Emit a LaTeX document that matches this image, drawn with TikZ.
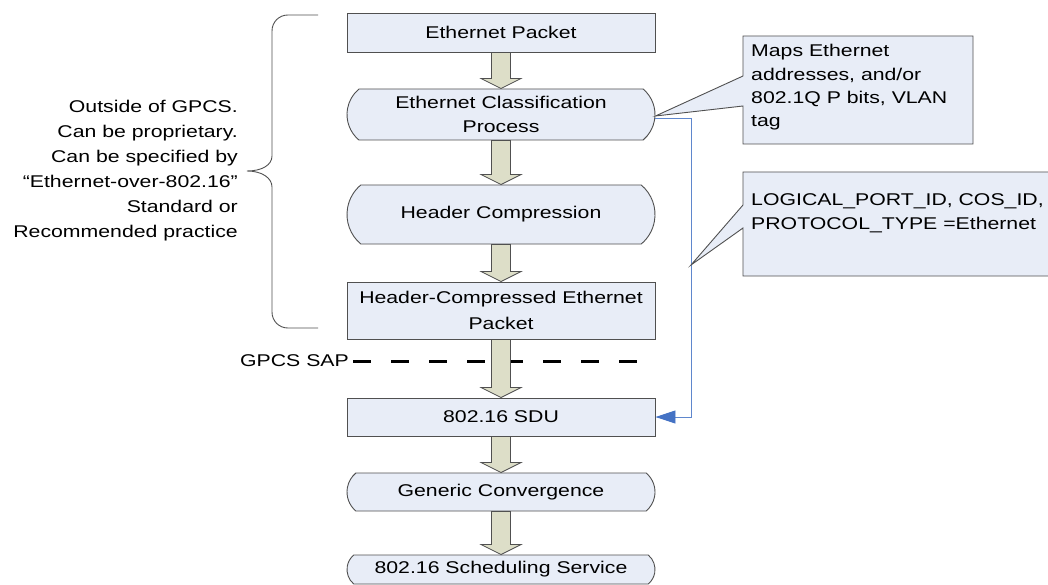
\documentclass[tikz,border=0pt]{standalone}
\usepackage{fontspec}
\setmainfont{Liberation Sans}[FakeStretch=1.25]
\usetikzlibrary{shapes.misc,arrows.meta,calc}
\definecolor{boxfill}{RGB}{232,237,247}
\definecolor{arrfill}{RGB}{221,222,200}
\definecolor{edge}{RGB}{80,80,80}
\definecolor{bline}{RGB}{95,135,205}
\definecolor{bhead}{RGB}{68,114,196}
\tikzset{
  procbox/.style={draw=edge, fill=boxfill, line width=0.9pt, minimum width=308pt, inner sep=0pt, align=center, font=\fontsize{17}{24}\selectfont},
  procround/.style={procbox, rounded rectangle, rounded rectangle arc length=100},
  barrow/.style={draw=edge, fill=arrfill, line width=0.8pt},
  callout/.style={draw=edge, fill=boxfill, line width=0.9pt},
  ctext/.style={inner sep=0pt, align=left, anchor=west},
  sapline/.style={line width=3pt, dash pattern=on 18pt off 20pt},
  blueline/.style={draw=bline, line width=0.8pt, -{Triangle[length=20pt,width=13pt,fill=bhead,color=bhead]}},
  bracestyle/.style={draw=edge, line width=0.9pt}
}
\newcommand\blockarrow[2]{%
  \draw[barrow] ([xshift=-9.5pt]#1.south) -- ([xshift=-9.5pt,yshift=10pt]#2.north) -- ([xshift=-20pt,yshift=10pt]#2.north) -- (#2.north) -- ([xshift=20pt,yshift=10pt]#2.north) -- ([xshift=9.5pt,yshift=10pt]#2.north) -- ([xshift=9.5pt]#1.south) -- cycle;}
\begin{document}
\begin{tikzpicture}[x=1pt,y=-1pt]
\useasboundingbox (0,0) rectangle (1048,585);
% main chain
\node[procbox, minimum height=39pt] (ep) at (501,32.5) {Ethernet Packet};
\node[procround, minimum height=51pt] (cls) at (501,114.5) {Ethernet Classification\\Process};
\node[procround, minimum height=59pt] (hc) at (501,214.5) {Header Compression};
\node[procbox, minimum height=57pt, font=\fontsize{17}{26.5}\selectfont] (hcep) at (501,310.5) {Header-Compressed Ethernet\\Packet};
\node[procbox, minimum height=38pt] (sdu) at (501,417) {802.16 SDU};
\node[procround, minimum height=38pt] (gc) at (501,492) {Generic Convergence};
\node[procround, minimum height=29pt] (sch) at (501,569.5) {802.16 Scheduling Service};
% GPCS SAP
\node[inner sep=0pt, anchor=east, font=\fontsize{17}{20}\selectfont] (sap) at (349,361) {GPCS SAP};
\coordinate (sapend) at (647,361);
\draw[sapline] ([xshift=4pt]sap.east) -- (sapend);
% block arrows
\blockarrow{ep}{cls}
\blockarrow{cls}{hc}
\blockarrow{hc}{hcep}
\blockarrow{hcep}{sdu}
\blockarrow{sdu}{gc}
\blockarrow{gc}{sch}
% blue connector
\draw[blueline] ([yshift=-3.5pt]cls.east) -- ++(36,0) |- (sdu.east);
% callout 1
\coordinate (c1tip) at ([yshift=-1.5pt]cls.east);
\filldraw[callout] (743,36) -- (973,36) -- (973,144) -- (743,144) -- (743,106) -- (c1tip) -- (743,76) -- cycle;
\node[ctext, font=\fontsize{17}{23.3}\selectfont] (t1) at (751,87.5) {Maps Ethernet\\addresses, and/or\\802.1Q P bits, VLAN\\tag};
% callout 2
\coordinate (c2tip) at (691,265);
\filldraw[callout] (743,172) -- (1056,172) -- (1056,276) -- (743,276) -- (743,228) -- (c2tip) -- (743,205) -- cycle;
\node[ctext, font=\fontsize{17}{23.5}\selectfont] (t2) at (751,213.5) {LOGICAL\_PORT\_ID, COS\_ID,\\PROTOCOL\_TYPE =Ethernet};
% brace
\draw[bracestyle] (318,15) -- (288,15) .. controls (279,15) and (272,22) .. (272,31) -- (272,156) .. controls (272,165) and (262,171) .. (247,171) .. controls (262,171) and (272,178) .. (272,187) -- (272,312) .. controls (272,321) and (279,328) .. (288,328) -- (318,328);
\node[inner sep=0pt, anchor=east, align=right, font=\fontsize{17}{25}\selectfont] (note) at (238,170.5) {Outside of GPCS.\\Can be proprietary.\\Can be specified by\\“Ethernet-over-802.16”\\Standard or\\Recommended practice};
\end{tikzpicture}
\end{document}
